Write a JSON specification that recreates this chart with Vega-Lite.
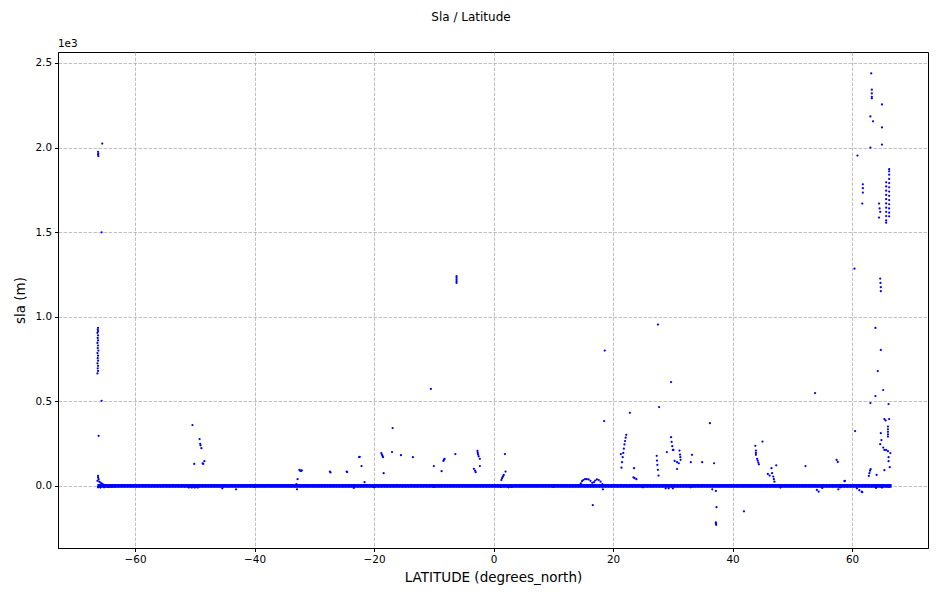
{
"$schema": "https://vega.github.io/schema/vega-lite/v6.json",
"width": 870, "height": 496,
"autosize": {"type": "none"},
"padding": {"left": 58, "top": 52, "right": 9, "bottom": 51},
"background": "white",
"title": {"text": "Sla / Latitude", "font": "DejaVu Sans", "fontSize": 12, "fontWeight": "normal", "color": "black", "anchor": "middle", "frame": "bounds", "offset": 15},
"config": {
  "view": {"stroke": "black", "strokeWidth": 1},
  "axis": {"labelFont": "DejaVu Sans", "labelFontSize": 10.4, "labelColor": "black", "tickColor": "black", "domainColor": "black", "tickSize": 3.5, "titleFont": "DejaVu Sans", "titleFontSize": 13.5, "titleFontWeight": "normal", "titleColor": "black", "gridColor": "#b0b0b0", "gridDash": [3.5, 1.5], "gridWidth": 0.8, "labelPadding": 3}
},
"datasets": {
  "band": [
{"lat":-66,"sla":0},{"lat":-65.5,"sla":0},{"lat":-65,"sla":0},{"lat":-64.5,"sla":0},{"lat":-64,"sla":0},{"lat":-63.5,"sla":0},{"lat":-63,"sla":0},{"lat":-62.5,"sla":0},{"lat":-62,"sla":0},{"lat":-61.5,"sla":0},{"lat":-61,"sla":0},{"lat":-60.5,"sla":0},{"lat":-60,"sla":0},{"lat":-59.5,"sla":0},{"lat":-59,"sla":0},{"lat":-58.5,"sla":0},{"lat":-58,"sla":0},{"lat":-57.5,"sla":0},{"lat":-57,"sla":0},{"lat":-56.5,"sla":0},{"lat":-56,"sla":0},{"lat":-55.5,"sla":0},{"lat":-55,"sla":0},{"lat":-54.5,"sla":0},{"lat":-54,"sla":0},{"lat":-53.5,"sla":0},{"lat":-53,"sla":0},{"lat":-52.5,"sla":0},{"lat":-52,"sla":0},{"lat":-51.5,"sla":0},{"lat":-51,"sla":0},{"lat":-50.5,"sla":0},{"lat":-50,"sla":0},{"lat":-49.5,"sla":0},{"lat":-49,"sla":0},{"lat":-48.5,"sla":0},{"lat":-48,"sla":0},{"lat":-47.5,"sla":0},{"lat":-47,"sla":0},{"lat":-46.5,"sla":0},{"lat":-46,"sla":0},{"lat":-45.5,"sla":0},{"lat":-45,"sla":0},{"lat":-44.5,"sla":0},{"lat":-44,"sla":0},{"lat":-43.5,"sla":0},{"lat":-43,"sla":0},{"lat":-42.5,"sla":0},{"lat":-42,"sla":0},{"lat":-41.5,"sla":0},{"lat":-41,"sla":0},{"lat":-40.5,"sla":0},{"lat":-40,"sla":0},{"lat":-39.5,"sla":0},{"lat":-39,"sla":0},{"lat":-38.5,"sla":0},{"lat":-38,"sla":0},{"lat":-37.5,"sla":0},{"lat":-37,"sla":0},{"lat":-36.5,"sla":0},{"lat":-36,"sla":0},{"lat":-35.5,"sla":0},{"lat":-35,"sla":0},{"lat":-34.5,"sla":0},{"lat":-34,"sla":0},{"lat":-33.5,"sla":0},{"lat":-33,"sla":0},{"lat":-32.5,"sla":0},{"lat":-32,"sla":0},{"lat":-31.5,"sla":0},{"lat":-31,"sla":0},{"lat":-30.5,"sla":0},{"lat":-30,"sla":0},{"lat":-29.5,"sla":0},{"lat":-29,"sla":0},{"lat":-28.5,"sla":0},{"lat":-28,"sla":0},{"lat":-27.5,"sla":0},{"lat":-27,"sla":0},{"lat":-26.5,"sla":0},{"lat":-26,"sla":0},{"lat":-25.5,"sla":0},{"lat":-25,"sla":0},{"lat":-24.5,"sla":0},{"lat":-24,"sla":0},{"lat":-23.5,"sla":0},{"lat":-23,"sla":0},{"lat":-22.5,"sla":0},{"lat":-22,"sla":0},{"lat":-21.5,"sla":0},{"lat":-21,"sla":0},{"lat":-20.5,"sla":0},{"lat":-20,"sla":0},{"lat":-19.5,"sla":0},{"lat":-19,"sla":0},{"lat":-18.5,"sla":0},{"lat":-18,"sla":0},{"lat":-17.5,"sla":0},{"lat":-17,"sla":0},{"lat":-16.5,"sla":0},{"lat":-16,"sla":0},{"lat":-15.5,"sla":0},{"lat":-15,"sla":0},{"lat":-14.5,"sla":0},{"lat":-14,"sla":0},{"lat":-13.5,"sla":0},{"lat":-13,"sla":0},{"lat":-12.5,"sla":0},{"lat":-12,"sla":0},{"lat":-11.5,"sla":0},{"lat":-11,"sla":0},{"lat":-10.5,"sla":0},{"lat":-10,"sla":0},{"lat":-9.5,"sla":0},{"lat":-9,"sla":0},{"lat":-8.5,"sla":0},{"lat":-8,"sla":0},{"lat":-7.5,"sla":0},{"lat":-7,"sla":0},{"lat":-6.5,"sla":0},{"lat":-6,"sla":0},{"lat":-5.5,"sla":0},{"lat":-5,"sla":0},{"lat":-4.5,"sla":0},{"lat":-4,"sla":0},{"lat":-3.5,"sla":0},{"lat":-3,"sla":0},{"lat":-2.5,"sla":0},{"lat":-2,"sla":0},{"lat":-1.5,"sla":0},{"lat":-1,"sla":0},{"lat":-0.5,"sla":0},{"lat":0,"sla":0},{"lat":0.5,"sla":0},{"lat":1,"sla":0},{"lat":1.5,"sla":0},{"lat":2,"sla":0},{"lat":2.5,"sla":0},{"lat":3,"sla":0},{"lat":3.5,"sla":0},{"lat":4,"sla":0},{"lat":4.5,"sla":0},{"lat":5,"sla":0},{"lat":5.5,"sla":0},{"lat":6,"sla":0},{"lat":6.5,"sla":0},{"lat":7,"sla":0},{"lat":7.5,"sla":0},{"lat":8,"sla":0},{"lat":8.5,"sla":0},{"lat":9,"sla":0},{"lat":9.5,"sla":0},{"lat":10,"sla":0},{"lat":10.5,"sla":0},{"lat":11,"sla":0},{"lat":11.5,"sla":0},{"lat":12,"sla":0},{"lat":12.5,"sla":0},{"lat":13,"sla":0},{"lat":13.5,"sla":0},{"lat":14,"sla":0},{"lat":14.5,"sla":0},{"lat":15,"sla":0},{"lat":15.5,"sla":0},{"lat":16,"sla":0},{"lat":16.5,"sla":0},{"lat":17,"sla":0},{"lat":17.5,"sla":0},{"lat":18,"sla":0},{"lat":18.5,"sla":0},{"lat":19,"sla":0},{"lat":19.5,"sla":0},{"lat":20,"sla":0},{"lat":20.5,"sla":0},{"lat":21,"sla":0},{"lat":21.5,"sla":0},{"lat":22,"sla":0},{"lat":22.5,"sla":0},{"lat":23,"sla":0},{"lat":23.5,"sla":0},{"lat":24,"sla":0},{"lat":24.5,"sla":0},{"lat":25,"sla":0},{"lat":25.5,"sla":0},{"lat":26,"sla":0},{"lat":26.5,"sla":0},{"lat":27,"sla":0},{"lat":27.5,"sla":0},{"lat":28,"sla":0},{"lat":28.5,"sla":0},{"lat":29,"sla":0},{"lat":29.5,"sla":0},{"lat":30,"sla":0},{"lat":30.5,"sla":0},{"lat":31,"sla":0},{"lat":31.5,"sla":0},{"lat":32,"sla":0},{"lat":32.5,"sla":0},{"lat":33,"sla":0},{"lat":33.5,"sla":0},{"lat":34,"sla":0},{"lat":34.5,"sla":0},{"lat":35,"sla":0},{"lat":35.5,"sla":0},{"lat":36,"sla":0},{"lat":36.5,"sla":0},{"lat":37,"sla":0},{"lat":37.5,"sla":0},{"lat":38,"sla":0},{"lat":38.5,"sla":0},{"lat":39,"sla":0},{"lat":39.5,"sla":0},{"lat":40,"sla":0},{"lat":40.5,"sla":0},{"lat":41,"sla":0},{"lat":41.5,"sla":0},{"lat":42,"sla":0},{"lat":42.5,"sla":0},{"lat":43,"sla":0},{"lat":43.5,"sla":0},{"lat":44,"sla":0},{"lat":44.5,"sla":0},{"lat":45,"sla":0},{"lat":45.5,"sla":0},{"lat":46,"sla":0},{"lat":46.5,"sla":0},{"lat":47,"sla":0},{"lat":47.5,"sla":0},{"lat":48,"sla":0},{"lat":48.5,"sla":0},{"lat":49,"sla":0},{"lat":49.5,"sla":0},{"lat":50,"sla":0},{"lat":50.5,"sla":0},{"lat":51,"sla":0},{"lat":51.5,"sla":0},{"lat":52,"sla":0},{"lat":52.5,"sla":0},{"lat":53,"sla":0},{"lat":53.5,"sla":0},{"lat":54,"sla":0},{"lat":54.5,"sla":0},{"lat":55,"sla":0},{"lat":55.5,"sla":0},{"lat":56,"sla":0},{"lat":56.5,"sla":0},{"lat":57,"sla":0},{"lat":57.5,"sla":0},{"lat":58,"sla":0},{"lat":58.5,"sla":0},{"lat":59,"sla":0},{"lat":59.5,"sla":0},{"lat":60,"sla":0},{"lat":60.5,"sla":0},{"lat":61,"sla":0},{"lat":61.5,"sla":0},{"lat":62,"sla":0},{"lat":62.5,"sla":0},{"lat":63,"sla":0},{"lat":63.5,"sla":0},{"lat":64,"sla":0},{"lat":64.5,"sla":0},{"lat":65,"sla":0},{"lat":65.5,"sla":0},{"lat":66,"sla":0},{"lat":66.3,"sla":0}
  ],
  "pts": [
{"lat":-66.3,"sla":665},{"lat":-66.2,"sla":680},{"lat":-66.25,"sla":695},{"lat":-66.2,"sla":710},{"lat":-66.3,"sla":725},{"lat":-66.2,"sla":740},{"lat":-66.25,"sla":755},{"lat":-66.2,"sla":770},{"lat":-66.3,"sla":785},{"lat":-66.15,"sla":800},{"lat":-66.25,"sla":815},{"lat":-66.2,"sla":830},{"lat":-66.3,"sla":845},{"lat":-66.2,"sla":860},{"lat":-66.25,"sla":875},{"lat":-66.2,"sla":890},{"lat":-66.3,"sla":905},{"lat":-66.2,"sla":915},{"lat":-66.25,"sla":925},{"lat":-66.2,"sla":935},
{"lat":-66.2,"sla":1975},{"lat":-66.15,"sla":1965},{"lat":-66.2,"sla":1958},{"lat":-66.15,"sla":1950},{"lat":-65.5,"sla":2024},{"lat":-65.6,"sla":1499},{"lat":-65.6,"sla":503},{"lat":-66.1,"sla":296},
{"lat":-66.2,"sla":60},{"lat":-66.2,"sla":50},{"lat":-66.1,"sla":40},{"lat":-66.3,"sla":30},{"lat":-66.0,"sla":25},{"lat":-65.8,"sla":20},{"lat":-65.6,"sla":15},{"lat":-65.5,"sla":10},{"lat":-65.3,"sla":8},{"lat":-65,"sla":5},{"lat":-66.2,"sla":-8},{"lat":-65.8,"sla":-10},{"lat":-65.2,"sla":-8},{"lat":-64.5,"sla":-6},{"lat":-64,"sla":-5},{"lat":-63.5,"sla":-4},
{"lat":-50.4,"sla":360},{"lat":-49.2,"sla":277},{"lat":-49.1,"sla":249},{"lat":-49.05,"sla":240},{"lat":-48.9,"sla":223},{"lat":-50.1,"sla":130},{"lat":-48.7,"sla":134},{"lat":-48.6,"sla":130},{"lat":-48.4,"sla":146},
{"lat":-51,"sla":-10},{"lat":-50.5,"sla":-10},{"lat":-50,"sla":-10},{"lat":-49.5,"sla":-10},{"lat":-45.4,"sla":-14},{"lat":-43.1,"sla":-20},
{"lat":-33,"sla":10},{"lat":-32.9,"sla":-20},{"lat":-32.8,"sla":40},{"lat":-32.5,"sla":95},{"lat":-32.4,"sla":90},{"lat":-32.2,"sla":88},{"lat":-32.1,"sla":92},
{"lat":-27.4,"sla":85},{"lat":-27.3,"sla":80},{"lat":-24.6,"sla":85},{"lat":-24.5,"sla":82},
{"lat":-22.5,"sla":170},{"lat":-22.4,"sla":172},{"lat":-22.1,"sla":117},{"lat":-21.6,"sla":22},{"lat":-23.4,"sla":-12},
{"lat":-18.8,"sla":194},{"lat":-18.7,"sla":185},{"lat":-18.6,"sla":178},{"lat":-18.5,"sla":170},{"lat":-18.4,"sla":75},{"lat":-18.3,"sla":4},{"lat":-16.9,"sla":342},{"lat":-17,"sla":200},{"lat":-15.5,"sla":182},{"lat":-13.5,"sla":170},
{"lat":-10.5,"sla":573},{"lat":-10,"sla":117},{"lat":-8.7,"sla":87},{"lat":-8.4,"sla":148},{"lat":-8.3,"sla":155},{"lat":-8.2,"sla":160},{"lat":-6.4,"sla":188},
{"lat":-6.2,"sla":1240},{"lat":-6.2,"sla":1230},{"lat":-6.2,"sla":1220},{"lat":-6.2,"sla":1210},{"lat":-6.2,"sla":1200},
{"lat":-3.3,"sla":101},{"lat":-3.1,"sla":90},{"lat":-3,"sla":81},{"lat":-2.3,"sla":117},{"lat":-2.7,"sla":207},{"lat":-2.65,"sla":195},{"lat":-2.6,"sla":185},{"lat":-2.5,"sla":175},{"lat":-2.3,"sla":160},
{"lat":1.3,"sla":35},{"lat":1.4,"sla":45},{"lat":1.5,"sla":52},{"lat":1.6,"sla":58},{"lat":1.7,"sla":65},{"lat":1.9,"sla":188},{"lat":2,"sla":85},{"lat":1.2,"sla":-5},{"lat":2.5,"sla":-8},{"lat":3,"sla":-6},
{"lat":14.6,"sla":15},{"lat":14.8,"sla":28},{"lat":15,"sla":35},{"lat":15.3,"sla":40},{"lat":15.6,"sla":40},{"lat":15.9,"sla":38},{"lat":16.2,"sla":30},{"lat":16.5,"sla":18},{"lat":16.8,"sla":22},{"lat":17,"sla":32},{"lat":17.3,"sla":38},{"lat":17.6,"sla":35},{"lat":17.9,"sla":25},{"lat":18.2,"sla":10},
{"lat":16.6,"sla":-114},{"lat":18.5,"sla":383},{"lat":18.3,"sla":-20},{"lat":18.6,"sla":800},
{"lat":22.8,"sla":432},{"lat":21.4,"sla":108},{"lat":21.5,"sla":140},{"lat":21.6,"sla":170},{"lat":21.7,"sla":195},{"lat":21.8,"sla":220},{"lat":21.9,"sla":245},{"lat":22.0,"sla":265},{"lat":22.1,"sla":285},{"lat":22.2,"sla":302},{"lat":21.3,"sla":188},{"lat":23.5,"sla":105},{"lat":23.4,"sla":51},{"lat":23.6,"sla":46},{"lat":23.9,"sla":40},
{"lat":27.7,"sla":466},{"lat":27.5,"sla":954},{"lat":29.7,"sla":614},{"lat":27.3,"sla":178},{"lat":27.35,"sla":150},{"lat":27.4,"sla":125},{"lat":27.5,"sla":95},{"lat":27.6,"sla":61},{"lat":29,"sla":200},{"lat":29.7,"sla":288},{"lat":29.8,"sla":260},{"lat":29.9,"sla":235},{"lat":30,"sla":213},{"lat":30.1,"sla":213},
{"lat":30.3,"sla":148},{"lat":30.7,"sla":140},{"lat":31,"sla":134},{"lat":30.7,"sla":100},{"lat":31.1,"sla":209},{"lat":31.2,"sla":185},{"lat":31.25,"sla":170},{"lat":31.3,"sla":154},{"lat":33,"sla":140},{"lat":33.2,"sla":184},{"lat":28.8,"sla":-14},{"lat":29.3,"sla":-14},{"lat":30,"sla":-14},
{"lat":34.9,"sla":140},{"lat":36.2,"sla":371},{"lat":36.9,"sla":134},{"lat":37.3,"sla":-126},{"lat":37.2,"sla":-215},{"lat":37.2,"sla":-222},{"lat":37.25,"sla":-230},{"lat":41.9,"sla":-150},{"lat":36.6,"sla":-20},{"lat":37.2,"sla":-30},
{"lat":43.8,"sla":237},{"lat":43.9,"sla":209},{"lat":43.9,"sla":195},{"lat":43.9,"sla":184},{"lat":44.1,"sla":160},{"lat":44.2,"sla":150},{"lat":44.3,"sla":138},{"lat":44.4,"sla":128},{"lat":45,"sla":262},
{"lat":45.9,"sla":71},{"lat":46.2,"sla":61},{"lat":46.5,"sla":105},{"lat":46.6,"sla":75},{"lat":46.8,"sla":55},{"lat":46.9,"sla":40},{"lat":47,"sla":25},{"lat":47.3,"sla":122},
{"lat":52.2,"sla":117},{"lat":53.8,"sla":549},{"lat":54.1,"sla":-24},{"lat":54.4,"sla":-34},{"lat":57.4,"sla":154},{"lat":57.6,"sla":142},{"lat":58.7,"sla":28},{"lat":57.7,"sla":-20},
{"lat":63.2,"sla":2439},{"lat":63.3,"sla":2342},{"lat":63.3,"sla":2320},{"lat":63.3,"sla":2300},{"lat":63.3,"sla":2291},{"lat":65,"sla":2255},{"lat":63.06,"sla":2184},{"lat":63.5,"sla":2155},{"lat":65,"sla":2119},{"lat":63.06,"sla":2000},{"lat":65,"sla":2018},{"lat":60.9,"sla":1953},
{"lat":61.8,"sla":1783},{"lat":61.8,"sla":1760},{"lat":61.8,"sla":1734},{"lat":61.7,"sla":1669},{"lat":64.5,"sla":1669},{"lat":64.6,"sla":1640},{"lat":64.7,"sla":1620},{"lat":64.5,"sla":1586},
{"lat":65.7,"sla":1795},{"lat":65.7,"sla":1770},{"lat":65.7,"sla":1745},{"lat":65.7,"sla":1720},{"lat":65.7,"sla":1695},{"lat":65.7,"sla":1670},{"lat":65.7,"sla":1645},{"lat":65.7,"sla":1620},{"lat":65.7,"sla":1595},{"lat":65.7,"sla":1570},{"lat":65.7,"sla":1556},
{"lat":66.2,"sla":1872},{"lat":66.2,"sla":1860},{"lat":66.2,"sla":1840},{"lat":66.2,"sla":1815},{"lat":66.2,"sla":1790},{"lat":66.2,"sla":1765},{"lat":66.2,"sla":1740},{"lat":66.2,"sla":1715},{"lat":66.2,"sla":1690},{"lat":66.2,"sla":1665},{"lat":66.2,"sla":1640},{"lat":66.2,"sla":1615},{"lat":66.2,"sla":1594},
{"lat":60.4,"sla":1284},{"lat":64.7,"sla":1226},{"lat":64.75,"sla":1200},{"lat":64.8,"sla":1175},{"lat":64.8,"sla":1151},
{"lat":63.9,"sla":934},{"lat":64.8,"sla":804},{"lat":64.3,"sla":679},{"lat":65.2,"sla":567},{"lat":63.9,"sla":531},{"lat":63.06,"sla":490},{"lat":66.1,"sla":484},{"lat":60.5,"sla":324},{"lat":65.4,"sla":395},{"lat":65.6,"sla":387},{"lat":66.2,"sla":395},
{"lat":66,"sla":351},{"lat":66,"sla":335},{"lat":66,"sla":320},{"lat":66,"sla":305},{"lat":66,"sla":292},{"lat":64.8,"sla":312},{"lat":64.9,"sla":271},{"lat":64.7,"sla":247},{"lat":65.2,"sla":227},{"lat":65.4,"sla":213},{"lat":65.7,"sla":213},{"lat":66,"sla":205},{"lat":66.4,"sla":194},{"lat":66.1,"sla":170},{"lat":66.1,"sla":146},{"lat":66.3,"sla":111},{"lat":65.4,"sla":93},{"lat":64.1,"sla":65},
{"lat":62.8,"sla":59},{"lat":62.9,"sla":75},{"lat":63,"sla":90},{"lat":63.1,"sla":99},{"lat":58.8,"sla":30},{"lat":60.8,"sla":-14},{"lat":61.2,"sla":-25},{"lat":61.7,"sla":-37},{"lat":61.6,"sla":-34},
{"lat":-40,"sla":-5},{"lat":-20,"sla":-8},{"lat":-10,"sla":-6},{"lat":10,"sla":-6},{"lat":25,"sla":-8},{"lat":33,"sla":-8},{"lat":48,"sla":-10},{"lat":55,"sla":-12},{"lat":58,"sla":-8},{"lat":64,"sla":-12},{"lat":65,"sla":-10}
  ]
},
"layer": [
  {
    "data": {"name": "band"},
    "mark": {"type": "point", "shape": "square", "filled": true, "size": 14, "color": "#0000ff", "opacity": 1},
    "encoding": {
      "x": {"field": "lat", "type": "quantitative", "scale": {"domain": [-72.9, 72.7], "nice": false, "zero": false},
        "axis": {"values": [-60, -40, -20, 0, 20, 40, 60], "title": "LATITUDE (degrees_north)", "grid": true, "titlePadding": 6}},
      "y": {"field": "sla", "type": "quantitative", "scale": {"domain": [-367, 2565], "nice": false, "zero": false},
        "axis": {"values": [0, 500, 1000, 1500, 2000, 2500], "labelExpr": "format(datum.value/1000, '.1f')", "title": "sla (m)", "grid": true, "titlePadding": 7}}
    }
  },
  {
    "data": {"name": "pts"},
    "mark": {"type": "point", "shape": "circle", "filled": true, "size": 5, "color": "#0000ff", "opacity": 1},
    "encoding": {
      "x": {"field": "lat", "type": "quantitative"},
      "y": {"field": "sla", "type": "quantitative"}
    }
  },
  {
    "data": {"values": [{"t": "1e3"}]},
    "mark": {"type": "text", "align": "left", "baseline": "bottom", "dy": -3, "font": "DejaVu Sans", "fontSize": 10.4, "color": "black"},
    "encoding": {
      "x": {"datum": -72.9, "type": "quantitative"},
      "y": {"datum": 2565, "type": "quantitative"},
      "text": {"field": "t"}
    }
  }
]
}
